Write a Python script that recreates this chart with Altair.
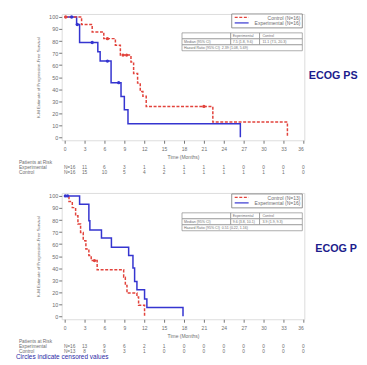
import altair as alt
import pandas as pd

# ---------------- data ----------------
months = list(range(0, 37, 3))

# top panel (ECOG PS 0)
top_exp_t = [0, 1.8, 2.25, 5.0, 5.35, 7.0, 8.5, 9.0, 9.55, 26.5]
top_exp_s = [100, 93.75, 78.8, 71.0, 63.3, 45.4, 33.9, 22.9, 11.3, 0]
top_exp_cens_t = [1.05, 1.9, 4.15, 6.45, 8.15]
top_exp_cens_s = [100, 93.75, 78.8, 63.3, 45.4]
top_ctl_t = [0, 2.55, 4.15, 5.9, 7.65, 8.4, 10.0, 10.4, 11.0, 11.4, 11.8, 12.3, 22.35, 33.6]
top_ctl_s = [100, 93.75, 87.5, 82.0, 76.5, 68.3, 62.5, 53.0, 45.0, 38.0, 34.0, 25.6, 12.6, 0]
top_ctl_cens_t = [0.15, 6.45, 8.8, 9.35, 21.0]
top_ctl_cens_s = [100, 82.0, 68.3, 68.3, 25.6]
top_risk_exp = [16, 11, 6, 3, 1, 1, 1, 1, 1, 0, 0, 0, 0]
top_risk_ctl = [16, 15, 10, 5, 4, 2, 1, 1, 1, 1, 1, 1, 0]
top_legend = ["Control (N=16)", "Experimental (N=16)"]
top_median = ["7.5 (1.8, 9.6)", "11.1 (7.5, 20.3)"]
top_hr = "2.39 (1.08, 5.69)"

# bottom panel (ECOG PS 1)
bot_exp_t = [0, 2.25, 3.65, 3.8, 5.55, 7.05, 9.65, 10.3, 10.55, 10.9, 12.05, 12.4, 17.85]
bot_exp_s = [100, 93.1, 79.3, 71.6, 65.0, 57.3, 50.4, 40.2, 28.9, 22.0, 14.3, 7.2, 0]
bot_exp_cens_t = [0.1, 0.45]
bot_exp_cens_s = [100, 100]
bot_ctl_t = [0, 0.65, 1.15, 1.65, 2.0, 2.4, 2.8, 3.2, 3.65, 4.0, 4.9, 8.9, 9.15, 9.4, 10.9, 11.15, 12.05]
bot_ctl_s = [100, 95.3, 90.3, 83.5, 76.6, 69.7, 62.8, 55.9, 50.4, 46.3, 38.6, 32.5, 25.6, 19.3, 16.0, 9.1, 0]
bot_ctl_cens_t = [4.5]
bot_ctl_cens_s = [46.3]
bot_risk_exp = [16, 13, 9, 6, 2, 1, 0, 0, 0, 0, 0, 0, 0]
bot_risk_ctl = [13, 8, 6, 3, 1, 0, 0, 0, 0, 0, 0, 0, 0]
bot_legend = ["Control (N=13)", "Experimental (N=16)"]
bot_median = ["9.6 (3.8, 10.1)", "3.9 (1.9, 9.3)"]
bot_hr = "0.51 (0.22, 1.16)"

table_header = ["Experimental", "Control"]
row_labels = ["Median (95% CI)", "Hazard Ratio (95% CI)"]
risk_labels = ["Patients at Risk", "Experimental", "Control"]
side_label = "ECOG PS"
footnote = "Circles indicate censored values"

# ---------------- styling ----------------
W, H = 244, 127
X_DOM = [-0.45, 36.15]
Y_DOM = [-2.5, 102.5]
FONT = "Liberation Sans"
GREY = "#6e6e6e"
RED = "#e2433c"
BLUE = "#3535d0"
NAVY = "#1c1c8c"
RIGHT_EDGE = 298  # last usable x (view coords) inside the page


def xenc():
    return alt.X("t:Q", scale=alt.Scale(domain=X_DOM, nice=False, zero=False),
                 axis=alt.Axis(values=months, format="d", title="Time (Months)",
                               domain=False, grid=False, tickSize=3, tickColor="#777",
                               labelFontSize=5, labelColor=GREY, labelFont=FONT,
                               labelPadding=3, titleFont=FONT, titleFontSize=5,
                               titleFontWeight="normal", titleColor=GREY, titlePadding=3))


def yenc():
    return alt.Y("s:Q", scale=alt.Scale(domain=Y_DOM, nice=False, zero=False),
                 axis=alt.Axis(values=list(range(0, 101, 10)), format="d",
                               title="K-M Estimate of Progression-Free Survival",
                               domain=False, grid=False, tickSize=3, tickColor="#777",
                               labelFontSize=5.5, labelColor=GREY, labelFont=FONT,
                               labelPadding=1, titleFont=FONT, titleFontSize=4.3,
                               titleFontWeight="normal", titleColor=GREY, titlePadding=8))


def one():
    return pd.DataFrame({"a": [0]})


def txt(text, x, y, size=3.6, color=GREY, align="left", weight="normal", limit=0):
    kw = dict(align=align, baseline="middle", fontSize=size, font=FONT, color=color,
              fontWeight=weight)
    if limit:
        kw["limit"] = limit
        kw["ellipsis"] = "\u200b"
    return alt.Chart(pd.DataFrame({"label": [text]})).mark_text(**kw).encode(
        x=alt.value(x), y=alt.value(y), text="label:N")


def box(x1, x2, y1, y2, sw=0.7, stroke="#8a8a8a"):
    return alt.Chart(one()).mark_rect(fill="white", stroke=stroke, strokeWidth=sw).encode(
        x=alt.value(x1), x2=alt.value(x2), y=alt.value(y1), y2=alt.value(y2))


def seg(x1, x2, y, color, dash=None):
    kw = dict(color=color, strokeWidth=1.2)
    if dash:
        kw["strokeDash"] = dash
    return alt.Chart(one()).mark_rule(**kw).encode(
        x=alt.value(x1), x2=alt.value(x2), y=alt.value(y))


def panel(exp_t, exp_s, ctl_t, ctl_s, ecens_t, ecens_s, ccens_t, ccens_s,
          risk_exp, risk_ctl, legend, median, hr, dy, side_x, side_y, anchor=False):
    exp = pd.DataFrame({"t": exp_t, "s": exp_s})
    ctl = pd.DataFrame({"t": ctl_t, "s": ctl_s})
    layers = []
    layers.append(alt.Chart(exp).mark_line(interpolate="step-after", color=BLUE,
                                           strokeWidth=1.5).encode(x=xenc(), y=yenc()))
    layers.append(alt.Chart(ctl).mark_line(interpolate="step-after", color=RED,
                                           strokeWidth=1.5, strokeDash=[3, 1.6]).encode(x=xenc(), y=yenc()))
    layers.append(alt.Chart(pd.DataFrame({"t": ecens_t, "s": ecens_s})).mark_point(
        filled=True, shape="circle", size=11, color=BLUE, opacity=1).encode(x=xenc(), y=yenc()))
    layers.append(alt.Chart(pd.DataFrame({"t": ccens_t, "s": ccens_s})).mark_point(
        filled=True, shape="circle", size=11, color=RED, opacity=1).encode(x=xenc(), y=yenc()))

    # legend box
    lx1, lx2 = 171, 242
    layers.append(box(lx1, lx2, 0 + dy, 14 + dy, sw=0.8, stroke="#777"))
    layers.append(seg(174, 188, 3.5 + dy, RED, [3, 1.6]))
    layers.append(seg(174, 188, 9 + dy, BLUE))
    layers.append(txt(legend[0], 240, 3.6 + dy, size=5, align="right"))
    layers.append(txt(legend[1], 240, 9.1 + dy, size=5, align="right"))

    # median / HR table
    c0, c1, c2, c3 = 121, 170, 199, 242
    r0, r1, r2, r3 = 19 + dy, 25 + dy, 31 + dy, 37 + dy
    layers += [box(c0, c1, r0, r1), box(c1, c2, r0, r1), box(c2, c3, r0, r1),
               box(c0, c1, r1, r2), box(c1, c2, r1, r2), box(c2, c3, r1, r2),
               box(c0, c3, r2, r3)]
    layers.append(txt(table_header[0], c1 + 2, (r0 + r1) / 2))
    layers.append(txt(table_header[1], c2 + 3, (r0 + r1) / 2))
    layers.append(txt(row_labels[0], c0 + 2, (r1 + r2) / 2))
    layers.append(txt(median[0], c1 + 2, (r1 + r2) / 2))
    layers.append(txt(median[1], c2 + 3, (r1 + r2) / 2))
    layers.append(txt(row_labels[1], c0 + 2, (r2 + r3) / 2))
    layers.append(txt(hr, c0 + 40, (r2 + r3) / 2))

    # patients at risk
    layers.append(txt(risk_labels[0], -43, 149.5, size=4.8))
    layers.append(txt(risk_labels[1], -43, 154.5, size=4.8))
    layers.append(txt(risk_labels[2], -43, 159.5, size=4.8))
    re = pd.DataFrame({"t": months[1:], "label": [str(v) for v in risk_exp[1:]]})
    rc = pd.DataFrame({"t": months[1:], "label": [str(v) for v in risk_ctl[1:]]})
    for df, yy in ((re, 154.5), (rc, 159.5)):
        layers.append(alt.Chart(df).mark_text(fontSize=4.8, font=FONT, color=GREY,
                                              baseline="middle").encode(
            x=xenc(), y=alt.value(yy), text="label:N"))
    n0 = pd.DataFrame({"t": [0, 0], "label": [f"N={risk_exp[0]}", f"N={risk_ctl[0]}"],
                       "yy": [154.5, 159.5]})
    for i in range(2):
        layers.append(alt.Chart(n0.iloc[[i]]).mark_text(fontSize=4.8, font=FONT, color=GREY,
                                                        baseline="middle", dx=5).encode(
            x=xenc(), y=alt.value(float(n0.yy[i])), text="label:N"))

    layers.append(txt(side_label, side_x, side_y, size=10.8, color=NAVY, weight="bold",
                      limit=RIGHT_EDGE - side_x))

    if anchor:
        layers.append(alt.Chart(one()).mark_rect(opacity=0).encode(
            x=alt.value(-53), x2=alt.value(RIGHT_EDGE), y=alt.value(-4), y2=alt.value(-3)))
    return alt.layer(*layers).properties(width=W, height=H)


top = panel(top_exp_t, top_exp_s, top_ctl_t, top_ctl_s, top_exp_cens_t, top_exp_cens_s,
            top_ctl_cens_t, top_ctl_cens_s, top_risk_exp, top_risk_ctl, top_legend,
            top_median, top_hr, 0, 248.5, 62, anchor=True)
bottom = panel(bot_exp_t, bot_exp_s, bot_ctl_t, bot_ctl_s, bot_exp_cens_t, bot_exp_cens_s,
               bot_ctl_cens_t, bot_ctl_cens_s, bot_risk_exp, bot_risk_ctl, bot_legend,
               bot_median, bot_hr, 1, 255, 56)
bottom = alt.layer(bottom, txt(footnote, -46, 165, size=6.5, color="#2a2aa6")).properties(width=W, height=H)

chart = alt.vconcat(top, bottom, spacing=53, bounds="flush").properties(padding=0).configure_view(
    stroke="#3a3a3a", strokeWidth=1.5).configure(background="white")

chart.save("out.html", embed_options={"renderer": "svg", "actions": False})
